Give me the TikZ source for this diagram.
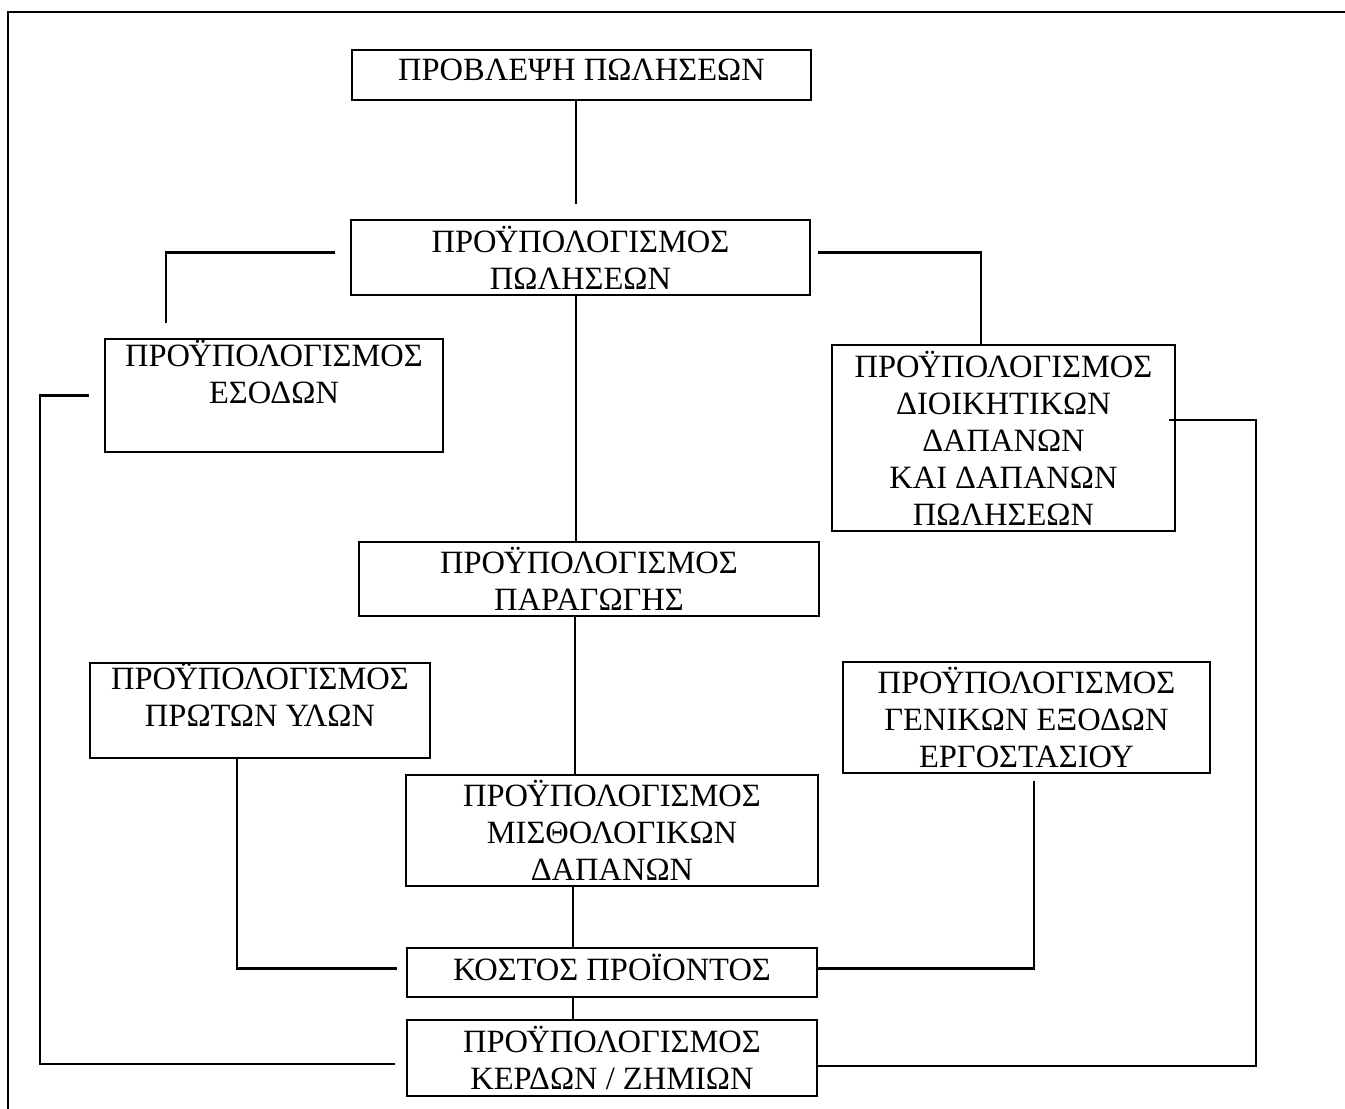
\documentclass[tikz,border=0pt]{standalone}
\usepackage{fontspec}
\setmainfont{Liberation Serif}
\begin{document}
\begin{tikzpicture}[x=1pt,y=-1pt,
  box/.style={draw,line width=2.2pt,inner sep=0pt,align=center,
    font=\fontsize{32.5}{37}\selectfont},
  conn/.style={line width=2.2pt}]
\useasboundingbox (0,0) rectangle (1345,1109);
% frame
\draw[conn] (8,1109) -- (8,12) -- (1345,12);
% boxes
\node[box,minimum width=459pt,minimum height=50pt] (b1) at (581.5,75) {ΠΡΟΒΛΕΨΗ ΠΩΛΗΣΕΩΝ\\[-37pt]\strut};
\node[box,minimum width=459pt,minimum height=75pt] (b2) at (580.5,257.5) {ΠΡΟΫΠΟΛΟΓΙΣΜΟΣ\\ΠΩΛΗΣΕΩΝ};
\node[box,minimum width=338pt,minimum height=113pt] (b3) at (274,395.5) {ΠΡΟΫΠΟΛΟΓΙΣΜΟΣ\\ΕΣΟΔΩΝ\\\strut};
\node[box,minimum width=343pt,minimum height=186pt] (b4) at (1003.5,438) {ΠΡΟΫΠΟΛΟΓΙΣΜΟΣ\\ΔΙΟΙΚΗΤΙΚΩΝ\\ΔΑΠΑΝΩΝ\\ΚΑΙ ΔΑΠΑΝΩΝ\\ΠΩΛΗΣΕΩΝ};
\node[box,minimum width=460pt,minimum height=74pt] (b5) at (589,579) {ΠΡΟΫΠΟΛΟΓΙΣΜΟΣ\\ΠΑΡΑΓΩΓΗΣ};
\node[box,minimum width=340pt,minimum height=95pt] (b6) at (260,710.5) {ΠΡΟΫΠΟΛΟΓΙΣΜΟΣ\\ΠΡΩΤΩΝ ΥΛΩΝ\\[-17pt]\strut};
\node[box,minimum width=367pt,minimum height=111pt] (b7) at (1026.5,717.5) {ΠΡΟΫΠΟΛΟΓΙΣΜΟΣ\\ΓΕΝΙΚΩΝ ΕΞΟΔΩΝ\\ΕΡΓΟΣΤΑΣΙΟΥ};
\node[box,minimum width=412pt,minimum height=111pt] (b8) at (612,830.5) {ΠΡΟΫΠΟΛΟΓΙΣΜΟΣ\\ΜΙΣΘΟΛΟΓΙΚΩΝ\\ΔΑΠΑΝΩΝ};
\node[box,minimum width=410pt,minimum height=49pt] (b9) at (612,972.5) {ΚΟΣΤΟΣ ΠΡΟΪΟΝΤΟΣ\\[-37pt]\strut};
\node[box,minimum width=410pt,minimum height=76pt] (b10) at (612,1058) {ΠΡΟΫΠΟΛΟΓΙΣΜΟΣ\\ΚΕΡΔΩΝ / ΖΗΜΙΩΝ};
% connectors
\draw[conn] ([xshift=-5.5pt]b1.south) -- ([xshift=-5.5pt,yshift=15pt]b1.south |- b2.north);
\draw[conn] ([xshift=-15pt,yshift=5pt]b2.west) -| ([xshift=-108pt,yshift=15pt]b3.north);
\draw[conn] ([xshift=7pt,yshift=5pt]b2.east) -| ([xshift=-22.5pt]b4.north);
\draw[conn] ([xshift=-4.5pt]b2.south) -- ([xshift=-4.5pt]b2.south |- b5.north);
\draw[conn] ([xshift=-14pt]b5.south) -- ([xshift=-14pt]b5.south |- b8.north);
\draw[conn] ([xshift=-39pt]b8.south) -- ([xshift=-39pt]b8.south |- b9.north);
\draw[conn] ([xshift=-39pt]b9.south) -- ([xshift=-39pt]b9.south |- b10.north);
\draw[conn] ([xshift=-23pt]b6.south) |- ([xshift=-9pt,yshift=4pt]b9.west);
\draw[conn] ([xshift=7.5pt,yshift=-7pt]b7.south) |- ([yshift=4pt]b9.east);
\draw[conn] ([xshift=-15pt]b3.west) -- ++(-49,0) |- ([xshift=-11pt,yshift=-6pt]b10.west);
\draw[conn] ([xshift=-7pt,yshift=18pt]b4.east) -- ++(87,0) |- ([yshift=-8pt]b10.east);
\end{tikzpicture}
\end{document}
